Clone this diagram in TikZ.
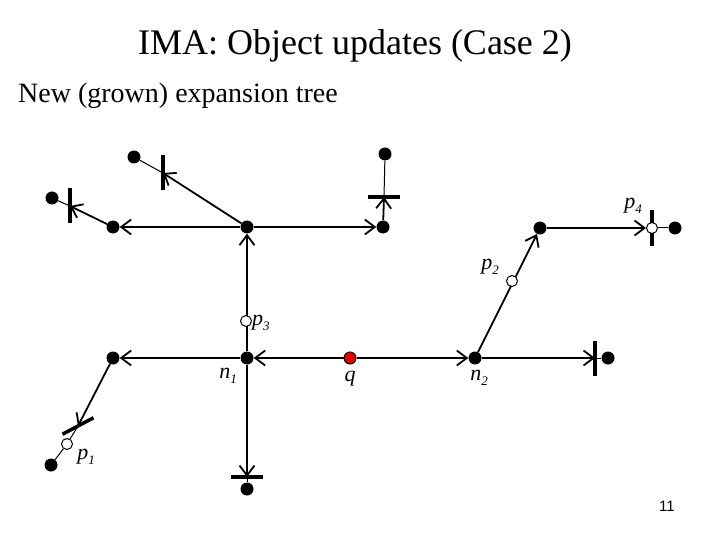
\documentclass[tikz,border=0pt]{standalone}
\usepackage{fontspec}
\setmainfont{Liberation Serif}
\newfontfamily\pagefont{Liberation Sans}
\usetikzlibrary{arrows.meta}
\newcommand{\sublbl}[2]{#1\raisebox{-0.25em}{\fontsize{13}{13}\selectfont #2}}
\begin{document}
\begin{tikzpicture}[x=1pt,y=-1pt,
  dot/.style={circle, fill=black, inner sep=0pt, minimum size=13pt},
  odot/.style={circle, draw=black, fill=white, line width=1pt, inner sep=0pt, minimum size=11pt},
  qdot/.style={circle, draw=black, fill=red!90!black, line width=1pt, inner sep=0pt, minimum size=12pt},
  barnode/.style={rectangle, fill=black, inner sep=0pt, minimum width=3.5pt, minimum height=35pt},
  hbarnode/.style={rectangle, fill=black, inner sep=0pt, minimum width=32pt, minimum height=3.5pt},
  edgearrow/.style={line width=1.8pt, -{Straight Barb[length=10pt,width=15pt,line width=1.8pt]}},
  thinline/.style={line width=1pt},
  lbl/.style={font=\fontsize{22}{22}\selectfont\itshape, inner sep=0pt}
]
\useasboundingbox (0,0) rectangle (720,540);
\node[font=\fontsize{36}{36}\selectfont] (title) at (355,46) {IMA: Object updates (Case 2)};
\node[font=\fontsize{28}{28}\selectfont, anchor=west, inner sep=0pt] (sub) at (18,96) {New (grown) expansion tree};
\node[font=\pagefont\fontsize{15}{15}\selectfont] (pg) at (667,506) {11};

% nodes
\node[dot] (U) at (247,227) {};
\node[dot] (UL) at (113,227) {};
\node[barnode] (ULb) at (70,206) {};
\node[dot] (ULf) at (52,198) {};
\node[barnode] (UUb) at (163,173) {};
\node[dot] (UUf) at (134,157) {};
\node[dot] (UR) at (383,227) {};
\node[hbarnode] (URb) at (384,197) {};
\node[dot] (URf) at (385,154) {};
\node[dot] (n1) at (247,358) {};
\node[dot] (L) at (113,358) {};
\node[barnode, rotate=-62] (Lb) at (78,426) {};
\node[dot] (p1f) at (51,465) {};
\node[hbarnode] (Db) at (247,477) {};
\node[dot] (Df) at (247,489) {};
\node[dot] (n2) at (475,358) {};
\node[barnode] (Rb) at (595,358) {};
\node[dot] (Rf) at (608,358) {};
\node[dot] (N) at (540,228) {};
\node[dot] (p4f) at (675,228) {};

% connectors
\draw[edgearrow] (U) -- (UL);
\draw[edgearrow] (U) -- (UUb.center);
\draw[thinline] (UUb.center) -- (UUf);
\draw[edgearrow] (UL) -- (ULb.center);
\draw[thinline] (ULb.center) -- (ULf);
\draw[edgearrow] (U) -- (UR);
\draw[edgearrow] (UR) -- (URb.center);
\draw[thinline] (URb.center) -- (URf);
\draw[edgearrow] (n1) -- (U);
\draw[edgearrow] (n1) -- (L);
\draw[edgearrow] (L) -- (Lb.center);
\draw[edgearrow] (n1) -- (Db.center);
\draw[thinline] (Db.center) -- (Df);
\draw[edgearrow] (n2) -- (Rb.center);
\draw[thinline] (Rb.center) -- (Rf);
\draw[edgearrow] (n2) -- (N);

% open points and query
\node[odot] (p3) at (246,321) {};
\node[odot] (p1) at (67,444) {};
\draw[thinline] (Lb.center) -- (p1);
\draw[thinline] (p1) -- (p1f);
\node[odot] (p2) at (512,281) {};
\node[barnode] (p4b) at (652,228) {};
\node[odot] (p4) at (652,228) {};
\draw[edgearrow] (N) -- (p4);
\draw[thinline] (p4) -- (p4f);
\node[qdot] (q) at (350,358) {};
\draw[edgearrow] (q) -- (n1);
\draw[edgearrow] (q) -- (n2);

% labels
\node[lbl] (lp4) at (633,206) {\sublbl{p}{4}};
\node[lbl] (lp2) at (490,267) {\sublbl{p}{2}};
\node[lbl, anchor=west] (lp3) at (252,323) {\sublbl{p}{3}};
\node[lbl] (ln1) at (228,376) {\sublbl{n}{1}};
\node[lbl] (lq) at (350,379) {q};
\node[lbl] (ln2) at (479,378) {\sublbl{n}{2}};
\node[lbl] (lp1) at (86,457) {\sublbl{p}{1}};
\end{tikzpicture}
\end{document}
